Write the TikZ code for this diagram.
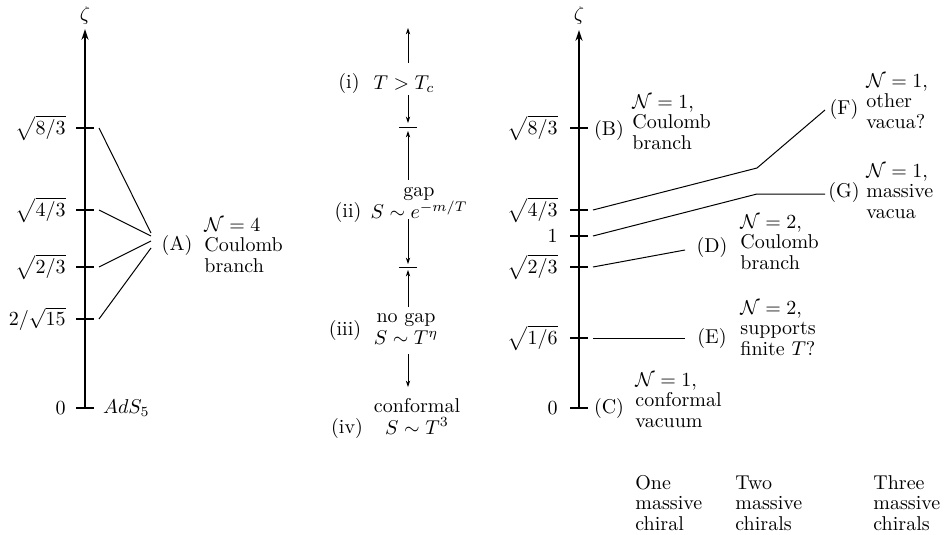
\documentclass[tikz,border=0pt]{standalone}
\usepackage{amsmath}
\usepackage{amssymb}
\usetikzlibrary{arrows.meta}
\usetikzlibrary{calc}
\tikzset{zaxis/.style={-{Stealth[length=5.5pt,width=3.6pt]}, line width=0.9pt}}
\tikzset{ztick/.style={line width=0.8pt}}
\tikzset{vacline/.style={line width=0.5pt}}
\tikzset{phase/.style={-{Stealth[length=3.2pt,width=2.2pt]}, line width=0.45pt}}
\tikzset{blurb/.style={anchor=west, align=left, inner sep=0pt, font=\fontsize{10}{10.2}\selectfont}}
\tikzset{stack/.style={align=center, inner sep=0pt, font=\fontsize{10}{11}\selectfont}}
\tikzset{tag/.style={inner sep=0pt}}
\tikzset{zlab/.style={anchor=east, inner sep=0pt}}

\begin{document}
\begin{tikzpicture}[x=0.5pt, y=-0.5pt]
    \useasboundingbox (0,0) rectangle (948,535);

    % Left axis: N=4 branch
    \coordinate (L0) at (85,408);
    \coordinate (Ltop) at (85,29);
    \draw[zaxis] (L0) -- (Ltop);
    \node (zetaL) at (85,16) {$\zeta$};
    \foreach \y/\lab/\n in {128/{$\sqrt{8/3}$}/a, 210/{$\sqrt{4/3}$}/b, 267/{$\sqrt{2/3}$}/c, 319/{$2/\sqrt{15}$}/d, 408/{$0$}/e} {
        \draw[ztick] (76,\y) -- (94,\y);
        \node[zlab] (Llab\n) at (66,\y) {\lab};
        \coordinate (Lt\n) at (99,\y);
    }
    \node[anchor=west] (ads) at (96,408) {$AdS_5$};

    \coordinate (Aa) at (151,233);
    \coordinate (Ab) at (151,236);
    \coordinate (Ac) at (151,241);
    \coordinate (Ad) at (151,248);
    \draw[vacline] (Lta) -- (Aa);
    \draw[vacline] (Ltb) -- (Ab);
    \draw[vacline] (Ltc) -- (Ac);
    \draw[vacline] (Ltd) -- (Ad);
    \node[tag] (A) at (177,245) {(A)};
    \node[blurb] (Atext) at (204,245) {$\mathcal{N}=4$\\Coulomb\\branch};

    % Middle column: thermal phases
    \coordinate (m0) at (408,28);
    \coordinate (m1) at (408,63);
    \coordinate (m2) at (408,95);
    \coordinate (m3) at (408,123);
    \coordinate (m4) at (408,180);
    \coordinate (m5) at (408,131);
    \coordinate (m6) at (408,219);
    \coordinate (m7) at (408,264);
    \coordinate (m8) at (408,307);
    \coordinate (m9) at (408,270);
    \coordinate (m10) at (408,354);
    \coordinate (m11) at (408,387);
    \draw[phase] (m1) -- (m0);
    \draw[phase] (m2) -- (m3);
    \draw[phase] (m4) -- (m5);
    \draw[phase] (m6) -- (m7);
    \draw[phase] (m8) -- (m9);
    \draw[phase] (m10) -- (m11);
    \draw[vacline] (399,128) -- (417,128);
    \draw[vacline] (399,267) -- (417,267);

    \node[tag] (p1) at (349,84) {(i)};
    \node[tag] (p1t) at (404,84) {$T>T_c$};
    \node[tag] (p2) at (348,212) {(ii)};
    \node[stack] (p2t) at (419,203) {gap\\$S\sim e^{-m/T}$};
    \node[tag] (p3) at (345,330) {(iii)};
    \node[stack] (p3t) at (406,329) {no gap\\$S\sim T^{\eta}$};
    \node[tag] (p4) at (347,428) {(iv)};
    \node[stack] (p4t) at (417,416) {conformal\\$S\sim T^3$};

    % Right axis: N=1 deformations
    \coordinate (R0) at (579,408);
    \coordinate (Rtop) at (579,30);
    \draw[zaxis] (R0) -- (Rtop);
    \node (zetaR) at (579,16) {$\zeta$};
    \foreach \y/\lab/\n in {128/{$\sqrt{8/3}$}/a, 210/{$\sqrt{4/3}$}/b, 236/{$1$}/c, 267/{$\sqrt{2/3}$}/d, 338/{$\sqrt{1/6}$}/e, 408/{$0$}/f} {
        \draw[ztick] (570,\y) -- (588,\y);
        \node[zlab] (Rlab\n) at (558,\y) {\lab};
        \coordinate (Rt\n) at (593,\y);
    }

    \coordinate (Fk) at (757,168);
    \coordinate (Fe) at (825,110);
    \coordinate (Gk) at (757,194);
    \coordinate (Ge) at (825,194);
    \coordinate (De) at (685,250);
    \coordinate (Ee) at (685,338);
    \draw[vacline] (Rtb) -- (Fk) -- (Fe);
    \draw[vacline] (Rtc) -- (Gk) -- (Ge);
    \draw[vacline] (Rtd) -- (De);
    \draw[vacline] (Rte) -- (Ee);

    \node[tag] (B) at (609,130) {(B)};
    \node[blurb] (Btext) at (632,122) {$\mathcal{N}=1$,\\Coulomb\\branch};
    \node[tag] (C) at (609,408) {(C)};
    \node[blurb] (Ctext) at (635,400) {$\mathcal{N}=1$,\\conformal\\vacuum};
    \node[tag] (D) at (712,247) {(D)};
    \node[blurb] (Dtext) at (740,242) {$\mathcal{N}=2$,\\Coulomb\\branch};
    \node[tag] (E) at (712,338) {(E)};
    \node[blurb] (Etext) at (740,328) {$\mathcal{N}=2$,\\supports\\finite $T$?};
    \node[tag] (F) at (844,110) {(F)};
    \node[blurb] (Ftext) at (866,101) {$\mathcal{N}=1$,\\other\\vacua?};
    \node[tag] (G) at (844,193) {(G)};
    \node[blurb] (Gtext) at (866,191) {$\mathcal{N}=1$,\\massive\\vacua};

    % Column captions
    \node[blurb] (one) at (635,503) {One\\massive\\chiral};
    \node[blurb] (two) at (735,503) {Two\\massive\\chirals};
    \node[blurb] (three) at (873,503) {Three\\massive\\chirals};
\end{tikzpicture}
\end{document}
